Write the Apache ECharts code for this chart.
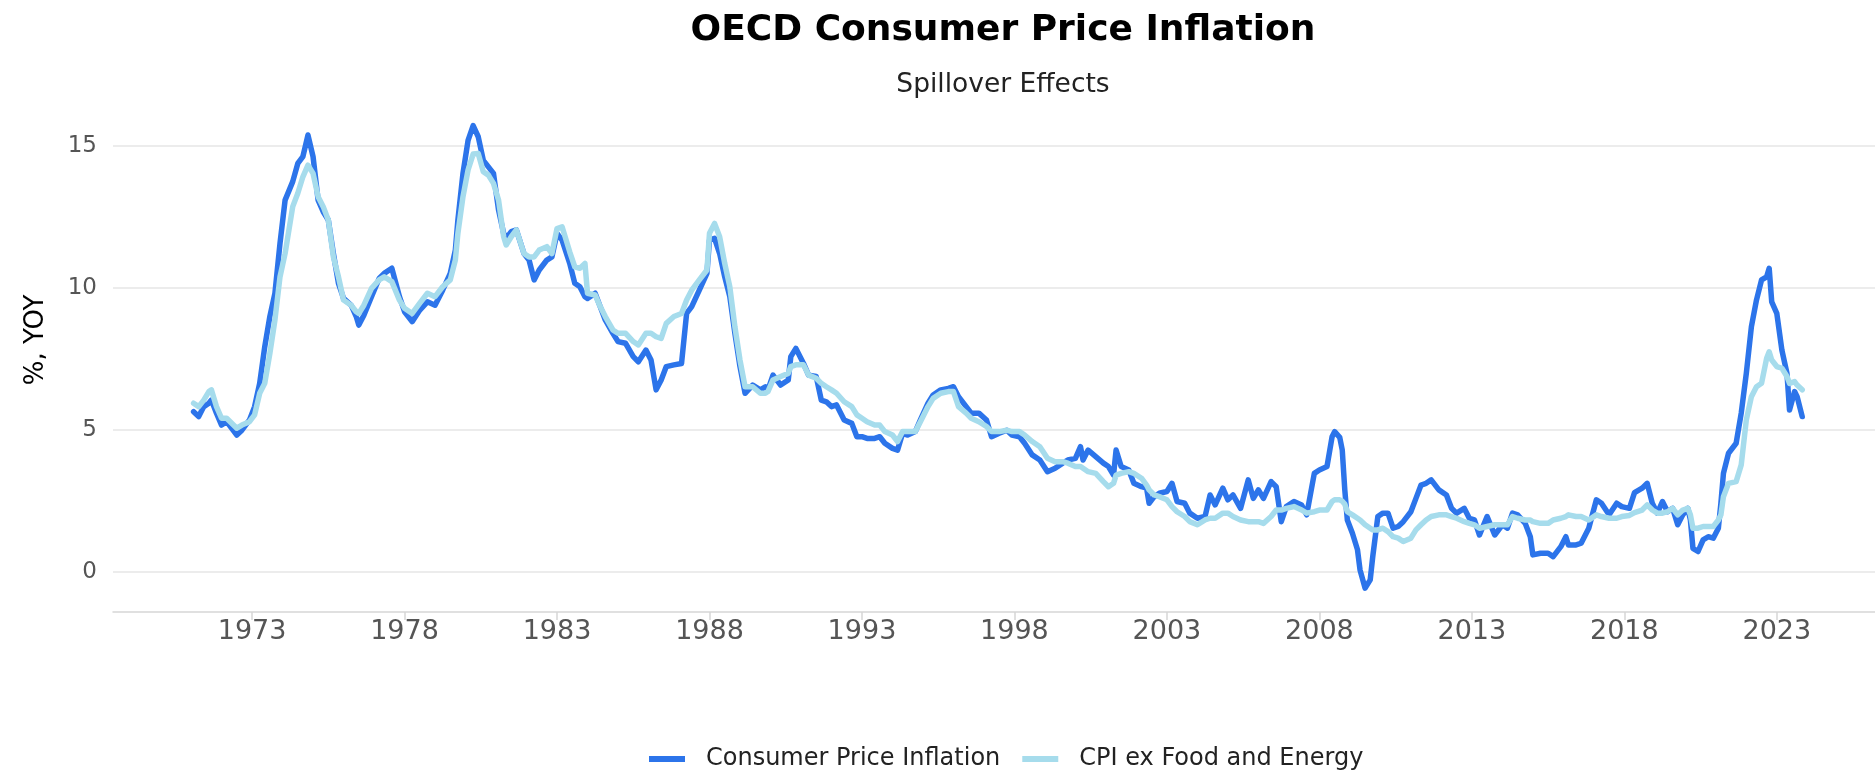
<!DOCTYPE html>
<html>
<head>
<meta charset="utf-8">
<title>OECD Consumer Price Inflation</title>
<script src="https://cdn.jsdelivr.net/npm/echarts@6/dist/echarts.min.js"></script>
<style>
  html, body { margin: 0; padding: 0; background: #fff; }
  #main { width: 1875px; height: 770px; }
</style>
</head>
<body>
<div id="main"></div>
<script>
// readings taken off the chart, month by month where the line bends
const months = [
  '1971-02', '1971-04', '1971-06', '1971-08', '1971-09', '1971-11', '1972-01', '1972-03', '1972-07', '1972-09', '1972-12',
  '1973-02', '1973-04', '1973-06', '1973-08', '1973-10', '1973-12', '1974-02', '1974-05', '1974-07', '1974-09', '1974-11',
  '1975-01', '1975-03', '1975-05', '1975-07', '1975-09', '1975-11', '1976-01', '1976-04', '1976-06', '1976-07', '1976-09', '1976-12',
  '1977-03', '1977-05', '1977-08', '1977-11', '1978-01', '1978-04', '1978-07', '1978-10', '1979-01', '1979-04', '1979-07', '1979-09',
  '1979-10', '1979-12', '1980-02', '1980-04', '1980-06', '1980-08', '1980-10', '1980-12', '1981-02', '1981-04', '1981-05', '1981-07',
  '1981-09', '1981-12', '1982-02', '1982-04', '1982-06', '1982-09', '1982-11', '1983-01', '1983-03', '1983-06', '1983-08', '1983-10',
  '1983-12', '1984-01', '1984-04', '1984-06', '1984-08', '1984-11', '1985-01', '1985-04', '1985-07', '1985-09', '1985-12', '1986-02',
  '1986-04', '1986-06', '1986-08', '1986-11', '1987-02', '1987-04', '1987-06', '1987-09', '1987-12', '1988-01', '1988-03', '1988-05',
  '1988-07', '1988-09', '1988-11', '1989-01', '1989-03', '1989-06', '1989-09', '1989-11', '1989-12', '1990-02', '1990-05', '1990-08',
  '1990-09', '1990-11', '1991-02', '1991-04', '1991-07', '1991-09', '1991-11', '1992-01', '1992-03', '1992-06', '1992-09', '1992-11',
  '1993-01', '1993-03', '1993-06', '1993-08', '1993-10', '1994-01', '1994-03', '1994-05', '1994-07', '1994-10', '1994-12', '1995-03',
  '1995-05', '1995-08', '1995-11', '1996-01', '1996-03', '1996-06', '1996-08', '1996-11', '1997-02', '1997-04', '1997-07', '1997-10',
  '1997-12', '1998-03', '1998-05', '1998-08', '1998-11', '1999-02', '1999-05', '1999-08', '1999-10', '2000-01', '2000-03', '2000-04',
  '2000-06', '2000-09', '2000-12', '2001-02', '2001-04', '2001-05', '2001-07', '2001-10', '2001-12', '2002-03', '2002-05', '2002-06',
  '2002-08', '2002-10', '2003-01', '2003-03', '2003-05', '2003-08', '2003-10', '2004-01', '2004-04', '2004-06', '2004-08', '2004-11',
  '2005-01', '2005-03', '2005-06', '2005-09', '2005-11', '2006-01', '2006-03', '2006-06', '2006-08', '2006-10', '2006-12', '2007-03',
  '2007-06', '2007-08', '2007-11', '2008-01', '2008-04', '2008-06', '2008-07', '2008-09', '2008-10', '2008-11', '2008-12', '2009-02',
  '2009-04', '2009-05', '2009-07', '2009-09', '2009-10', '2009-12', '2010-02', '2010-04', '2010-06', '2010-08', '2010-10', '2011-01',
  '2011-03', '2011-05', '2011-07', '2011-09', '2011-12', '2012-03', '2012-05', '2012-07', '2012-10', '2012-12', '2013-02', '2013-04',
  '2013-07', '2013-10', '2014-01', '2014-03', '2014-05', '2014-07', '2014-10', '2014-12', '2015-01', '2015-04', '2015-07', '2015-09',
  '2015-12', '2016-02', '2016-03', '2016-06', '2016-08', '2016-11', '2017-02', '2017-04', '2017-07', '2017-10', '2017-12', '2018-03',
  '2018-05', '2018-08', '2018-10', '2018-12', '2019-02', '2019-04', '2019-06', '2019-08', '2019-10', '2019-12', '2020-02', '2020-03',
  '2020-04', '2020-06', '2020-08', '2020-10', '2020-12', '2021-02', '2021-03', '2021-04', '2021-06', '2021-09', '2021-11', '2022-01',
  '2022-03', '2022-05', '2022-07', '2022-09', '2022-10', '2022-11', '2023-01', '2023-03', '2023-05', '2023-06', '2023-08', '2023-09',
  '2023-11'
]

const cpi = [
  5.65, 5.48, 5.83, 5.95, 6.06, 5.6, 5.18, 5.3, 4.83, 5.0, 5.36,
  5.83, 6.65, 7.94, 9.0, 9.82, 11.58, 13.1, 13.75, 14.39, 14.63, 15.39,
  14.63, 13.1, 12.69, 12.4, 11.22, 10.17, 9.64, 9.4, 9.0, 8.7, 9.05, 9.7,
  10.34, 10.52, 10.7, 9.7, 9.17, 8.82, 9.23, 9.52, 9.4, 9.93, 10.52, 11.34,
  12.4, 14.04, 15.2, 15.72, 15.33, 14.5, 14.27, 14.04, 12.75, 11.93, 11.75, 11.99,
  12.05, 11.22, 10.99, 10.29, 10.64, 10.99, 11.1, 11.93, 11.69, 10.87, 10.17, 10.05,
  9.7, 9.64, 9.82, 9.35, 8.88, 8.41, 8.12, 8.06, 7.59, 7.41, 7.82, 7.47,
  6.42, 6.77, 7.24, 7.3, 7.35, 9.11, 9.35, 9.93, 10.52, 11.69, 11.75, 11.22,
  10.4, 9.7, 8.41, 7.24, 6.3, 6.59, 6.42, 6.53, 6.42, 6.94, 6.59, 6.77,
  7.59, 7.88, 7.35, 6.94, 6.89, 6.06, 6.0, 5.83, 5.89, 5.36, 5.24, 4.77,
  4.77, 4.71, 4.71, 4.77, 4.54, 4.36, 4.3, 4.89, 4.83, 4.95, 5.36, 5.95,
  6.24, 6.42, 6.47, 6.53, 6.18, 5.83, 5.6, 5.6, 5.36, 4.77, 4.89, 5.0,
  4.83, 4.77, 4.54, 4.13, 3.95, 3.54, 3.66, 3.84, 3.95, 4.01, 4.42, 3.95,
  4.3, 4.07, 3.84, 3.72, 3.42, 4.3, 3.72, 3.6, 3.13, 3.01, 2.96, 2.43,
  2.66, 2.78, 2.84, 3.13, 2.49, 2.43, 2.08, 1.9, 1.96, 2.72, 2.37, 2.96,
  2.55, 2.72, 2.25, 3.25, 2.6, 2.9, 2.6, 3.19, 3.01, 1.78, 2.31, 2.49,
  2.37, 2.02, 3.48, 3.6, 3.72, 4.77, 4.95, 4.75, 4.3, 2.9, 1.84, 1.37,
  0.79, 0.08, -0.56, -0.27, 0.55, 1.96, 2.08, 2.08, 1.55, 1.61, 1.78, 2.13,
  2.6, 3.07, 3.13, 3.25, 2.9, 2.72, 2.25, 2.08, 2.25, 1.9, 1.84, 1.31,
  1.96, 1.31, 1.67, 1.55, 2.08, 2.02, 1.72, 1.25, 0.61, 0.67, 0.67, 0.55,
  0.9, 1.25, 0.96, 0.96, 1.02, 1.55, 2.55, 2.43, 2.02, 2.43, 2.31, 2.25,
  2.8, 2.96, 3.13, 2.43, 2.08, 2.49, 2.13, 2.25, 1.67, 2.02, 2.25, 1.84,
  0.84, 0.73, 1.14, 1.25, 1.2, 1.55, 2.43, 3.48, 4.19, 4.54, 5.6, 7.0,
  8.64, 9.58, 10.29, 10.4, 10.7, 9.52, 9.11, 7.82, 7.0, 5.71, 6.36, 6.18,
  5.48
]

const cpiCore = [
  5.95, 5.83, 6.06, 6.36, 6.42, 5.83, 5.42, 5.42, 5.07, 5.18, 5.3,
  5.54, 6.3, 6.65, 7.7, 8.88, 10.4, 11.22, 12.87, 13.34, 13.92, 14.33,
  14.04, 13.22, 12.87, 12.4, 11.1, 10.4, 9.58, 9.4, 9.17, 9.11, 9.4, 9.99,
  10.29, 10.4, 10.23, 9.58, 9.29, 9.11, 9.47, 9.82, 9.7, 10.05, 10.29, 10.99,
  11.93, 13.22, 14.16, 14.72, 14.74, 14.1, 13.98, 13.69, 13.1, 11.81, 11.52, 11.81,
  12.05, 11.22, 11.1, 11.1, 11.34, 11.46, 11.22, 12.1, 12.16, 11.28, 10.75, 10.7,
  10.87, 9.82, 9.76, 9.35, 9.0, 8.53, 8.41, 8.41, 8.12, 8.0, 8.41, 8.41,
  8.29, 8.23, 8.76, 9.0, 9.11, 9.58, 9.93, 10.29, 10.64, 11.93, 12.28, 11.81,
  10.87, 10.05, 8.64, 7.47, 6.53, 6.53, 6.3, 6.3, 6.36, 6.77, 6.89, 7.0,
  7.24, 7.3, 7.3, 6.94, 6.83, 6.65, 6.53, 6.42, 6.3, 6.0, 5.83, 5.54,
  5.42, 5.3, 5.18, 5.18, 4.95, 4.83, 4.6, 4.95, 4.95, 4.95, 5.3, 5.83,
  6.12, 6.3, 6.36, 6.36, 5.83, 5.6, 5.42, 5.3, 5.13, 4.95, 4.95, 5.0,
  4.95, 4.95, 4.83, 4.6, 4.42, 4.01, 3.89, 3.89, 3.84, 3.72, 3.72, 3.66,
  3.54, 3.48, 3.19, 3.01, 3.13, 3.42, 3.48, 3.54, 3.48, 3.31, 3.07, 2.9,
  2.72, 2.66, 2.55, 2.31, 2.13, 1.96, 1.78, 1.67, 1.84, 1.9, 1.9, 2.08,
  2.08, 1.96, 1.84, 1.78, 1.78, 1.78, 1.72, 1.96, 2.19, 2.19, 2.25, 2.31,
  2.19, 2.08, 2.13, 2.19, 2.19, 2.49, 2.55, 2.55, 2.5, 2.4, 2.13, 2.02,
  1.9, 1.84, 1.67, 1.55, 1.49, 1.49, 1.55, 1.43, 1.25, 1.2, 1.08, 1.2,
  1.49, 1.67, 1.84, 1.96, 2.02, 2.02, 1.96, 1.9, 1.78, 1.72, 1.67, 1.55,
  1.61, 1.67, 1.67, 1.67, 1.96, 1.9, 1.84, 1.84, 1.78, 1.72, 1.72, 1.84,
  1.9, 1.96, 2.02, 1.96, 1.96, 1.84, 2.02, 1.96, 1.9, 1.9, 1.96, 2.0,
  2.1, 2.19, 2.37, 2.19, 2.08, 2.08, 2.13, 2.25, 2.02, 2.19, 2.25, 2.02,
  1.55, 1.55, 1.61, 1.61, 1.61, 1.84, 2.02, 2.66, 3.13, 3.19, 3.78, 5.36,
  6.18, 6.53, 6.65, 7.53, 7.76, 7.47, 7.24, 7.18, 6.89, 6.65, 6.71, 6.59,
  6.42
]

const yearTicks = [1973, 1978, 1983, 1988, 1993, 1998, 2003, 2008, 2013, 2018, 2023]
const valueTicks = [0, 5, 10, 15]

const toYear = m => {
  const [y, mo] = m.split('-').map(Number)
  return y + (mo - 1) / 12
}

const chart = echarts.init(document.getElementById('main'))
const font = '"DejaVu Sans", sans-serif'

const option = {
  animation: false,
  textStyle: { fontFamily: font },
  title: {
    text: 'OECD Consumer Price Inflation',
    subtext: 'Spillover Effects',
    left: 998,
    textAlign: 'center',
    top: 8,
    itemGap: 23,
    textStyle: { fontFamily: font, fontSize: 36, fontWeight: 'bold', color: '#000' },
    subtextStyle: { fontFamily: font, fontSize: 26.5, color: '#222' }
  },
  legend: {
    top: 742,
    left: 644,
    icon: 'rect',
    itemWidth: 36,
    itemHeight: 6,
    itemGap: 22,
    textStyle: { fontFamily: font, fontSize: 24, color: '#222', padding: [0, 0, 0, 16] },
    data: ['Consumer Price Inflation', 'CPI ex Food and Energy']
  },
  grid: { left: 113, right: 0, top: 68, bottom: 158 },
  xAxis: {
    type: 'value',
    min: 1968.44,
    max: 2026.22,
    axisLine: { onZero: false, lineStyle: { color: '#d6d6d6', width: 1.5 } },
    axisTick: { customValues: yearTicks, length: 8, lineStyle: { color: '#d6d6d6', width: 1.5 } },
    axisLabel: {
      customValues: yearTicks,
      formatter: v => String(v),
      margin: 6,
      fontFamily: font,
      fontSize: 27,
      color: '#555'
    },
    splitLine: { show: false }
  },
  yAxis: {
    type: 'value',
    min: -1.4,
    max: 17.75,
    name: '%, YOY',
    nameLocation: 'middle',
    nameRotate: 90,
    nameGap: 64,
    nameTextStyle: { fontFamily: font, fontSize: 26, color: '#000' },
    axisLine: { show: false },
    axisTick: { show: false, customValues: valueTicks },
    axisLabel: { customValues: valueTicks, margin: 16, fontFamily: font, fontSize: 23, color: '#555' },
    splitLine: { lineStyle: { color: '#e6e6e6', width: 1.5 } }
  },
  series: [
    {
      name: 'Consumer Price Inflation',
      type: 'line',
      showSymbol: false,
      symbol: 'none',
      color: '#2c74ea',
      lineStyle: { width: 5.5, cap: 'round', join: 'round' },
      data: months.map((m, i) => [toYear(m), cpi[i]])
    },
    {
      name: 'CPI ex Food and Energy',
      type: 'line',
      showSymbol: false,
      symbol: 'none',
      color: '#a6dcec',
      lineStyle: { width: 5.5, cap: 'round', join: 'round' },
      data: months.map((m, i) => [toYear(m), cpiCore[i]])
    }
  ]
}

chart.setOption(option)
</script>
</body>
</html>
